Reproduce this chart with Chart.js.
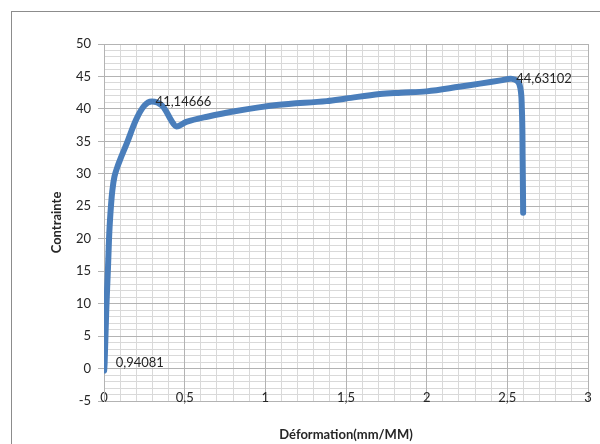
<!DOCTYPE html>
<html>
<head>
<meta charset="utf-8">
<title>Contrainte / Déformation</title>
<script src="https://cdn.jsdelivr.net/npm/chart.js@4/dist/chart.umd.min.js"></script>
<style>
  html, body { margin: 0; padding: 0; background: #fff; }
  #frame {
    position: absolute; left: 11px; top: 11px; width: 700px; height: 600px;
    border-left: 1px solid #8c8c8c; border-top: 1px solid #8c8c8c;
  }
  #chart { position: absolute; left: 0; top: 0; }
</style>
</head>
<body>
<div id="frame"></div>
<canvas id="chart" width="600" height="444"></canvas>
<script>
'use strict';

// Déformation (mm/MM).
const deformation = [
    0.001, 0.004, 0.014, 0.025, 0.033, 0.043, 0.052, 0.065, 0.082, 0.1,
    0.14, 0.2, 0.25, 0.295, 0.36, 0.42, 0.45, 0.51, 0.64, 0.8,
    1.07, 1.38, 1.5, 1.71, 1.84, 2.0, 2.2, 2.33, 2.46, 2.53,
    2.575, 2.59, 2.595, 2.598,
];
// Contrainte.
const contrainte = [
    -0.3, 0.94081, 9, 15.7, 21, 25, 27.5, 29.6, 31.0, 32.2,
    34.6, 38.4, 40.5, 41.14666, 40.5, 38.1, 37.3, 38.0, 38.8, 39.6,
    40.6, 41.2, 41.6, 42.3, 42.5, 42.7, 43.4, 43.9, 44.4, 44.63102,
    43.8, 40, 32, 24,
];
// Points that carry a data label.
const labelledPoints = [1, 13, 29];

const xTicks = [0, 0.5, 1, 1.5, 2, 2.5, 3];
const yTicks = [-5, 0, 5, 10, 15, 20, 25, 30, 35, 40, 45, 50];

const FONT = 'Lato, "Open Sans", sans-serif';
const TEXT = '#262626';
const MAJOR = '#b3b3b3';
const MINOR = '#d9d9d9';

const comma = (v) => String(v).replace('.', ',');

/**
 * Write the value next to the labelled points.
 */
const dataLabels = {
    id: 'dataLabels',
    afterDatasetsDraw(chart) {
        const ctx = chart.ctx;
        const meta = chart.getDatasetMeta(0);
        ctx.save();
        ctx.font = '13px ' + FONT;
        ctx.fillStyle = TEXT;
        ctx.textAlign = 'left';
        ctx.textBaseline = 'middle';
        labelledPoints.forEach((i, n) => {
            const pt = meta.data[i];
            // the first label stands a little clear of the steep line
            const gap = n === 0 ? 11 : 4;
            ctx.fillText(comma(contrainte[i]), pt.x + gap, pt.y);
        });
        ctx.restore();
    },
};

const points = deformation.map((x, i) => ({x: x, y: contrainte[i]}));

new Chart(document.getElementById('chart'), {
    type: 'scatter',
    data: {
        datasets: [{
            data: points,
            showLine: true,
            borderColor: '#4a7ebb',
            borderWidth: 6,
            borderCapStyle: 'round',
            borderJoinStyle: 'round',
            pointRadius: 0,
            tension: 0.35,
            xAxisID: 'x',
            yAxisID: 'y',
        }],
    },
    options: {
        responsive: false,
        animation: false,
        layout: {padding: {left: 0, top: 44, right: 12, bottom: 0}},
        plugins: {legend: {display: false}, tooltip: {enabled: false}},
        scales: {
            xMinor: {
                type: 'linear', position: 'bottom', min: 0, max: 3, z: -1,
                ticks: {display: false, stepSize: 0.1},
                grid: {color: MINOR, drawTicks: false},
                border: {display: false},
                afterFit: (s) => { s.height = 0; },
            },
            yMinor: {
                type: 'linear', position: 'left', min: -5, max: 50, z: -1,
                ticks: {display: false, stepSize: 1},
                grid: {color: MINOR, drawTicks: false},
                border: {display: false},
                afterFit: (s) => { s.width = 0; },
            },
            x: {
                type: 'linear', position: 'bottom', min: 0, max: 3,
                afterBuildTicks: (s) => { s.ticks = xTicks.map((v) => ({value: v})); },
                ticks: {
                    // labels sit just inside the plot, above the -5 line
                    autoSkip: false, maxRotation: 0, mirror: true, padding: -5,
                    color: TEXT, font: {family: FONT, size: 13},
                    callback: (v) => comma(v),
                },
                grid: {color: MAJOR, drawTicks: false},
                border: {color: MAJOR},
                title: {
                    display: true, text: 'Déformation(mm/MM)', color: TEXT,
                    font: {family: FONT, size: 13, weight: 'bold'},
                    padding: {top: 1, bottom: 1},
                },
                afterFit: (s) => { s.height = 43; },
            },
            y: {
                type: 'linear', position: 'left', min: -5, max: 50,
                afterBuildTicks: (s) => { s.ticks = yTicks.map((v) => ({value: v})); },
                ticks: {
                    autoSkip: false, padding: 7,
                    color: TEXT, font: {family: FONT, size: 13},
                    callback: (v) => comma(v),
                },
                grid: {color: MAJOR, tickLength: 6},
                border: {color: MAJOR},
                title: {
                    display: true, text: 'Contrainte', color: TEXT,
                    font: {family: FONT, size: 13, weight: 'bold'},
                    padding: {top: 49, bottom: 0},
                },
                afterFit: (s) => { s.width = 104; },
            },
        },
    },
    plugins: [dataLabels],
});
</script>
</body>
</html>
